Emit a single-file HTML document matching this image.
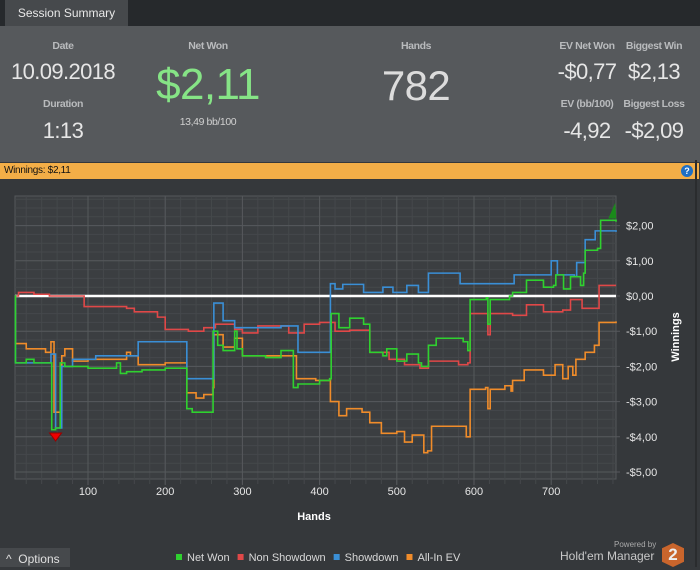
<!DOCTYPE html>
<html><head><meta charset="utf-8"><style>
body{margin:0;width:700px;height:567px;background:#35383b;font-family:"Liberation Sans",sans-serif;overflow:hidden;position:relative}
.a{position:absolute;white-space:nowrap}
.lbl{color:#b9bbbd;font-size:10.5px;font-weight:bold;letter-spacing:-0.4px;transform:translateX(-50%)}
.val{color:#e6e6e6;font-size:22px;letter-spacing:-0.6px;transform:translateX(-50%)}
</style></head><body>
<div class="a" style="left:0;top:0;width:700px;height:26px;background:#26292c"></div>
<div class="a" style="left:5px;top:0;width:123px;height:26px;background:#46494c;color:#e8e8e8;font-size:12px;line-height:26px;text-align:center">Session Summary</div>
<div class="a" style="left:0;top:26px;width:700px;height:136px;background:#56595c"></div>
<div class="a lbl" style="left:63px;top:40px">Date</div>
<div class="a val" style="left:63px;top:59px">10.09.2018</div>
<div class="a lbl" style="left:63px;top:98px">Duration</div>
<div class="a val" style="left:63px;top:118px">1:13</div>
<div class="a lbl" style="left:208px;top:40px">Net Won</div>
<div class="a val" style="left:208px;top:60px;font-size:44px;color:#86e486">$2,11</div>
<div class="a lbl" style="left:208px;top:116px;font-weight:normal;color:#d0d0d0">13,49 bb/100</div>
<div class="a lbl" style="left:416px;top:40px">Hands</div>
<div class="a val" style="left:416px;top:62px;font-size:42px;color:#dcdcdc">782</div>
<div class="a lbl" style="left:587px;top:40px">EV Net Won</div>
<div class="a lbl" style="left:654px;top:40px">Biggest Win</div>
<div class="a val" style="left:587px;top:59px">-$0,77</div>
<div class="a val" style="left:654px;top:59px">$2,13</div>
<div class="a lbl" style="left:587px;top:98px">EV (bb/100)</div>
<div class="a lbl" style="left:654px;top:98px">Biggest Loss</div>
<div class="a val" style="left:587px;top:118px">-4,92</div>
<div class="a val" style="left:654px;top:118px">-$2,09</div>
<div class="a" style="left:0;top:163px;width:695px;height:16px;background:#f3ae47;color:#111;font-size:10px;letter-spacing:-0.3px;line-height:16px;padding-left:4px">Winnings: $2,11</div>
<div class="a" style="left:681px;top:165px;width:12px;height:12px;border-radius:6px;background:#1e6fc4;color:#fff;font-size:9px;font-weight:bold;text-align:center;line-height:12px">?</div>
<div class="a" style="left:695px;top:160px;width:2px;height:407px;background:#2a2c2e"></div>
<svg id="chart" class="a" style="left:0;top:0" width="700" height="567"></svg>
<div class="a" style="left:0;top:548px;width:70px;height:19px;background:#46494c;color:#e0e0e0;font-size:12px;line-height:22px;padding-left:6px;box-sizing:border-box">^ &nbsp;Options</div>
<div class="a" style="left:614px;top:540px;color:#aaa;font-size:8px">Powered by</div>
<div class="a" style="left:560px;top:549px;color:#c8c8c8;font-size:12px">Hold'em Manager</div>
<div class="a" style="left:662px;top:543px;width:22px;height:24px;background:#c9652c;color:#eee;font-weight:bold;font-size:17px;text-align:center;line-height:24px;clip-path:polygon(50% 0,100% 22%,100% 78%,50% 100%,0 78%,0 22%)">2</div>
<script>
const hands=[0,100,200,300,400,500,600,700];
const yTicks=[2,1,0,-1,-2,-3,-4,-5];
const yTickLabels=["$2,00","$1,00","$0,00","-$1,00","-$2,00","-$3,00","-$4,00","-$5,00"];
const netWonH=[5,6,20,30,50,53,58,64,66,70,100,137,142,150,170,200,228,235,262,268,275,290,293,300,330,350,366,372,400,413,415,425,439,457,465,482,487,500,513,528,532,541,551,586,592,595,616,618,621,646,650,668,690,703,706,716,725,738,742,744,760,764,784];
const netWonV=[0,-1.9,-1.8,-1.9,-1.9,-3.8,-3.75,-1.9,-1.9,-2.0,-2.05,-1.9,-2.2,-2.15,-2.1,-2.05,-3.2,-3.3,-1.0,-1.4,-1.55,-1.0,-1.5,-1.7,-1.75,-1.55,-2.6,-2.5,-2.4,-2.35,-0.5,-0.9,-0.63,-0.8,-1.6,-1.7,-1.5,-1.85,-1.65,-1.9,-2.0,-1.4,-1.2,-1.3,-1.55,-0.1,-0.05,-0.8,-0.1,0,0.1,0.45,0.25,0.3,0.6,0.2,0.55,0.3,0.65,1.3,1.35,2.15,2.11];
const nonSdH=[5,10,30,50,90,95,150,160,190,200,230,250,265,290,300,320,360,380,400,420,439,465,490,510,530,541,580,592,595,618,621,650,668,690,715,725,740,760,762,784];
const nonSdV=[0,0.1,0.05,0,0,-0.3,-0.35,-0.45,-0.6,-0.95,-1.0,-0.9,-0.8,-0.95,-1.05,-0.85,-1.05,-0.8,-0.75,-1.0,-0.97,-1.6,-1.8,-1.95,-2.05,-1.85,-1.95,-1.9,-0.5,-1.1,-0.5,-0.55,-0.25,-0.45,-0.4,-0.1,-0.35,-0.35,0.3,0.3];
const sdH=[5,6,52,58,64,66,80,110,165,228,263,275,290,350,372,414,420,430,457,482,495,513,528,541,582,652,700,708,730,733,744,757,784];
const sdV=[0,-1.9,-1.65,-3.75,-3.75,-2.0,-1.8,-1.7,-1.3,-2.35,-0.2,-0.7,-0.9,-0.85,-1.6,0.35,0.2,0.33,0.1,0.25,0.1,0.3,0.1,0.65,0.35,0.6,1.0,0.6,0.55,0.95,1.6,1.85,1.82];
const aiH=[5,6,20,45,52,56,64,66,70,80,100,150,155,165,200,228,240,250,262,263,275,290,300,330,360,370,395,414,425,435,455,465,480,500,510,520,535,540,545,580,590,595,615,618,621,640,648,650,665,690,705,715,722,728,732,744,756,762,784];
const aiV=[0,-1.35,-1.5,-1.6,-1.3,-3.3,-3.3,-1.7,-1.5,-1.85,-1.8,-1.6,-1.7,-1.95,-1.9,-2.75,-2.9,-2.8,-2.6,-1.1,-1.45,-1.2,-1.7,-1.7,-1.7,-2.35,-2.4,-3.0,-3.4,-3.2,-3.3,-3.6,-3.9,-3.85,-4.15,-3.95,-4.45,-4.4,-3.7,-3.7,-4.0,-2.65,-2.6,-3.2,-2.65,-2.55,-2.7,-2.4,-2.1,-2.25,-1.95,-2.35,-2.0,-2.25,-1.8,-1.6,-1.4,-0.75,-0.72];
const legendNames=["Net Won","Non Showdown","Showdown","All-In EV"];
const legendColors=["#2fd12f","#e04848","#3a8fd6","#f08c2a"];

const NS="http://www.w3.org/2000/svg";
const svg=document.getElementById('chart');
const L=15,R=616,T=196,B=479;
const X=h=>10.8+0.772*h;
const Y=v=>296-35.2*v;
function mk(tag,attrs,parent){const e=document.createElementNS(NS,tag);for(const k in attrs)e.setAttribute(k,attrs[k]);(parent||svg).appendChild(e);return e;}
let bg=mk('rect',{x:L,y:T,width:R-L,height:B-T,fill:'#3b3e41',stroke:'#55585b'});


for(let v=-5.25;v<=2.8;v+=0.25){const y=Y(v);if(y<T||y>B)continue;const l=mk('line',{x1:L,x2:R,y1:y,y2:y,stroke:'#45484b','stroke-width':1});

}
for(let h=20;h<=780;h+=20){const x=X(h);if(x<L||x>R)continue;const l=mk('line',{x1:x,x2:x,y1:T,y2:B+5,stroke:'#45484b'});

}
yTicks.forEach((v,i)=>{const y=Y(v);const l=mk('line',{x1:L,x2:R+4,y1:y,y2:y,stroke:'#56595c'});


const t=mk('text',{x:R+10,y:y+4,fill:'#e6e6e6','font-size':11,'font-family':'Liberation Sans'});t.textContent=yTickLabels[i];

});
hands.forEach(h=>{if(h===0)return;const x=X(h);const l=mk('line',{x1:x,x2:x,y1:T,y2:B+6,stroke:'#56595c'});


const t=mk('text',{x:x,y:B+16,fill:'#e6e6e6','font-size':11,'text-anchor':'middle','font-family':'Liberation Sans'});t.textContent=h;

});
let xt=mk('text',{x:314,y:520,fill:'#fff','font-size':11,'font-weight':'bold','text-anchor':'middle','font-family':'Liberation Sans'});xt.textContent='Hands';


let yt=mk('text',{x:0,y:0,fill:'#fff','font-size':11,'font-weight':'bold','text-anchor':'middle','font-family':'Liberation Sans',transform:'translate(679,337) rotate(-90)'});yt.textContent='Winnings';


let zl=mk('line',{x1:L,x2:R,y1:Y(0),y2:Y(0),stroke:'#fff','stroke-width':2.5});


function step(H,V){let d='M'+X(H[0])+','+Y(V[0]);for(let i=1;i<H.length;i++){d+=' H'+X(H[i])+' V'+Y(V[i]);}return d;}
const series=[[aiH,aiV,3,'all-in-ev-line'],[nonSdH,nonSdV,1,'non-showdown-line'],[sdH,sdV,2,'showdown-line'],[netWonH,netWonV,0,'net-won-line']];
series.forEach(s=>{const p=mk('path',{d:step(s[0],s[1]),fill:'none',stroke:legendColors[s[2]],'stroke-width':1.6});

});
let mn=mk('polygon',{points:`${X(58)-6},433 ${X(58)+6},433 ${X(58)},441`,fill:'#e00',stroke:'#900'});


let mx=mk('polygon',{points:`${X(783)-7},${Y(2.2)} ${X(783)},${Y(2.65)} ${X(783)+1},${Y(2.2)}`,fill:'#1a8a1a'});


let lx=176;
legendNames.forEach((n,i)=>{const r=mk('rect',{x:lx,y:554,width:6,height:6,fill:legendColors[i]});


const t=mk('text',{x:lx+11,y:561,fill:'#d8d8d8','font-size':11,'font-family':'Liberation Sans'});t.textContent=n;


lx+=11+t.getComputedTextLength()+8;});
</script>
</body></html>
